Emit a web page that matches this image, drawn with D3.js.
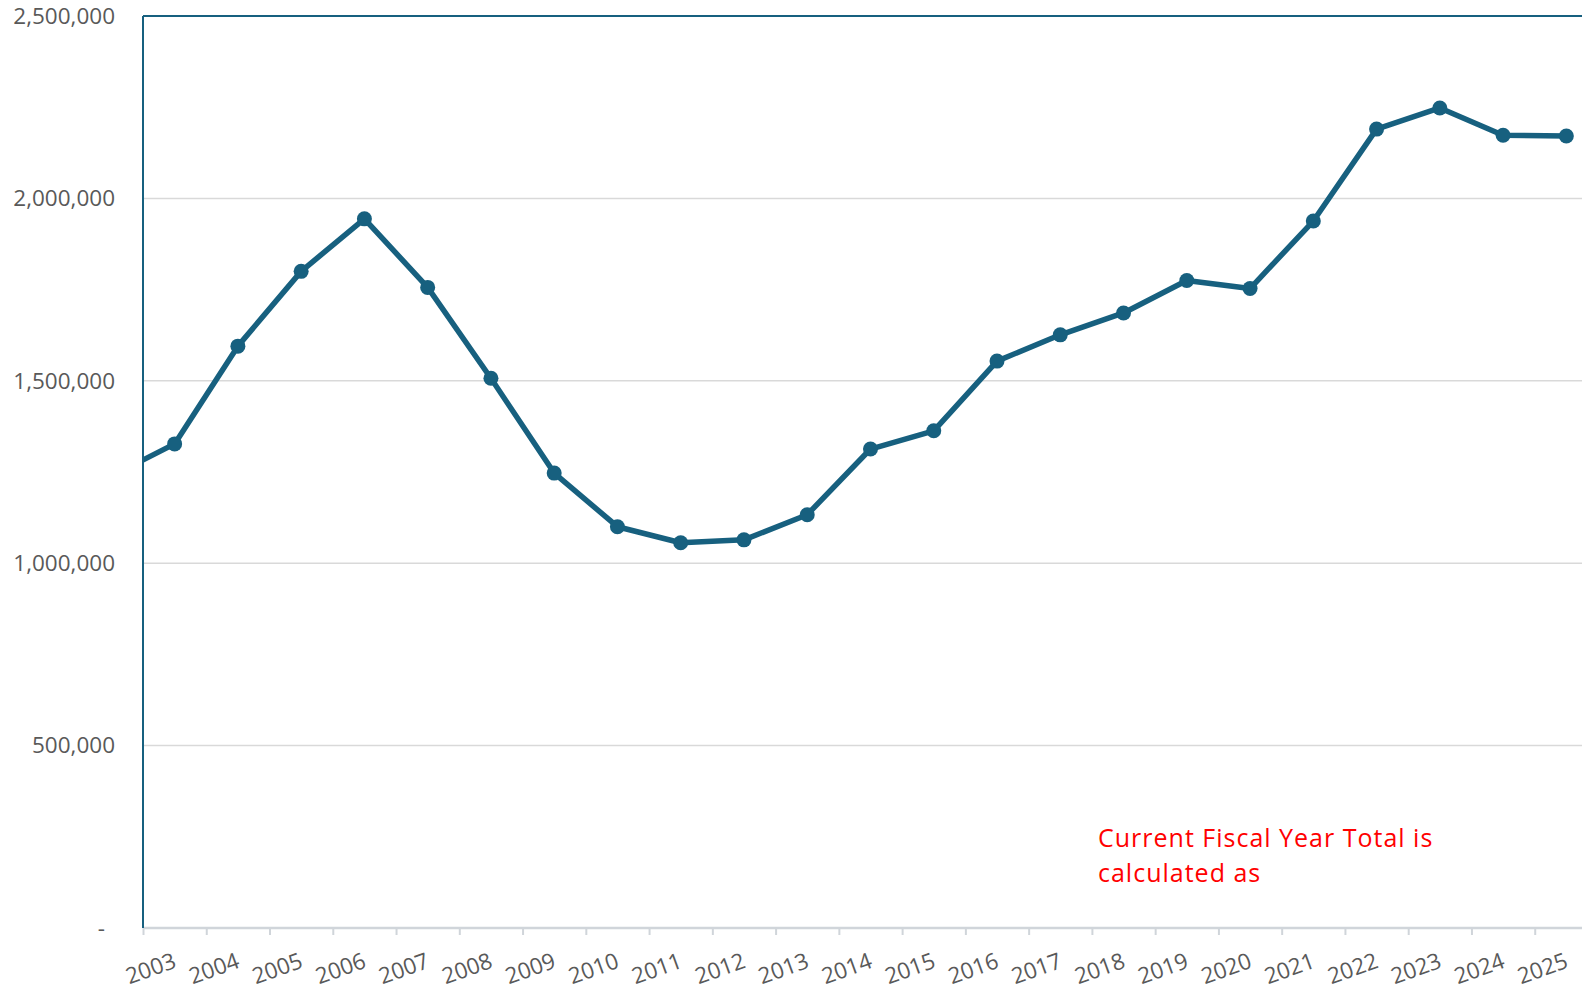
<!DOCTYPE html>
<html>
<head>
<meta charset="utf-8">
<script src="https://cdn.jsdelivr.net/npm/d3@7"></script>
<style>
  body { margin: 0; background: #fff; overflow: hidden; }
  svg { display: block; }
</style>
</head>
<body>
<script>
//Chart Data (2002 sits just outside the left edge, only its line segment shows)
var years = [2002, 2003, 2004, 2005, 2006, 2007, 2008, 2009, 2010, 2011, 2012, 2013,
             2014, 2015, 2016, 2017, 2018, 2019, 2020, 2021, 2022, 2023, 2024, 2025];
var totals = [1239000, 1327000, 1595000, 1800000, 1944000, 1756000, 1507000, 1247000,
              1100000, 1056000, 1064000, 1133000, 1313000, 1363000, 1554000, 1626000,
              1686000, 1775000, 1753000, 1938000, 2190000, 2248000, 2173000, 2171000];
var tickYears = d3.range(2003, 2026);
var yTicks = [0, 500000, 1000000, 1500000, 2000000, 2500000];
var noteLines = ['Current Fiscal Year Total is', 'calculated as'];

//SVG Dimensions
var svgWidth = 1582;
var svgHeight = 987;
var margin = { top: 16, left: 143, bottom: 59 };
var step = 63.26;

var svg = d3.select('body')
    .append('svg')
    .attr('width', svgWidth)
    .attr('height', svgHeight);

var plotBottom = svgHeight - margin.bottom;

//Scales: categories are centred between tick marks
var xScale = d3.scaleLinear()
    .domain([2002.5, 2025.5])
    .range([margin.left, margin.left + 23 * step]);
var yScale = d3.scaleLinear()
    .domain([0, 2500000])
    .range([plotBottom, margin.top]);

var lineColor = '#17607f';
var textColor = '#595959';
var fontFamily = '"Open Sans", Roboto, sans-serif';

//Clip for the plot area
svg.append('clipPath')
    .attr('id', 'plotClip')
    .append('rect')
    .attr('x', margin.left)
    .attr('y', 0)
    .attr('width', svgWidth - margin.left)
    .attr('height', plotBottom + 5);

//Gridlines
svg.append('g')
    .selectAll('line')
    .data(yTicks.filter(d => d > 0 && d < 2500000))
    .enter()
    .append('line')
    .attr('x1', margin.left)
    .attr('x2', svgWidth)
    .attr('y1', d => yScale(d))
    .attr('y2', d => yScale(d))
    .attr('stroke', '#d9d9d9')
    .attr('stroke-width', 1.5);

//Y axis labels
var yAxis = d3.axisLeft(yScale)
    .tickValues(yTicks)
    .tickSize(0)
    .tickPadding(0)
    .tickFormat(d => d === 0 ? '-' : d3.format(',')(d));

var yAxisG = svg.append('g')
    .attr('transform', 'translate(115, 0)')
    .call(yAxis);
yAxisG.select('.domain').remove();
yAxisG.selectAll('text')
    .attr('fill', textColor)
    .attr('font-family', fontFamily)
    .attr('font-size', '22.5px')
    .attr('x', d => d === 0 ? -10 : 0);

//X axis (gray baseline with downward ticks)
var xAxis = d3.axisBottom(xScale)
    .tickValues(tickYears.map(y => y - 0.5))
    .tickSize(7)
    .tickFormat('');

var xAxisG = svg.append('g')
    .attr('transform', `translate(0, ${plotBottom})`)
    .call(xAxis);
xAxisG.select('.domain')
    .attr('d', `M${margin.left},0H${svgWidth}`)
    .attr('stroke', '#d0d5da')
    .attr('stroke-width', 2.5);
xAxisG.selectAll('.tick line')
    .attr('stroke', '#d0d5da')
    .attr('stroke-width', 2);

//Rotated year labels, end of text at category centre
svg.append('g')
    .selectAll('text')
    .data(tickYears)
    .enter()
    .append('text')
    .attr('transform', d => `translate(${xScale(d) + 3}, ${plotBottom + 39}) rotate(-20)`)
    .attr('text-anchor', 'end')
    .attr('fill', textColor)
    .attr('font-family', fontFamily)
    .attr('font-size', '22.5px')
    .text(d => d);

//Plot border: top and left in line colour
svg.append('line')
    .attr('x1', margin.left)
    .attr('x2', svgWidth)
    .attr('y1', margin.top)
    .attr('y2', margin.top)
    .attr('stroke', lineColor)
    .attr('stroke-width', 2);
svg.append('line')
    .attr('x1', margin.left)
    .attr('x2', margin.left)
    .attr('y1', margin.top)
    .attr('y2', plotBottom)
    .attr('stroke', lineColor)
    .attr('stroke-width', 2);

//Series line and markers
var series = years.map((y, i) => ({ year: y, total: totals[i] }));
var plot = svg.append('g').attr('clip-path', 'url(#plotClip)');

var line = d3.line()
    .x(d => xScale(d.year))
    .y(d => yScale(d.total));

plot.append('path')
    .datum(series)
    .attr('d', line)
    .attr('fill', 'none')
    .attr('stroke', lineColor)
    .attr('stroke-width', 5.5)
    .attr('stroke-linejoin', 'round');

plot.selectAll('circle')
    .data(series.filter(d => d.year >= 2003))
    .enter()
    .append('circle')
    .attr('cx', d => xScale(d.year))
    .attr('cy', d => yScale(d.total))
    .attr('r', 7.5)
    .attr('fill', lineColor);

//Red note
svg.append('text')
    .attr('x', 1098)
    .attr('y', 847)
    .attr('fill', '#ff0000')
    .attr('font-family', fontFamily)
    .attr('font-size', '25px')
    .attr('letter-spacing', '1px')
    .selectAll('tspan')
    .data(noteLines)
    .enter()
    .append('tspan')
    .attr('x', 1098)
    .attr('dy', (d, i) => i === 0 ? 0 : 35)
    .text(d => d);
</script>
</body>
</html>
